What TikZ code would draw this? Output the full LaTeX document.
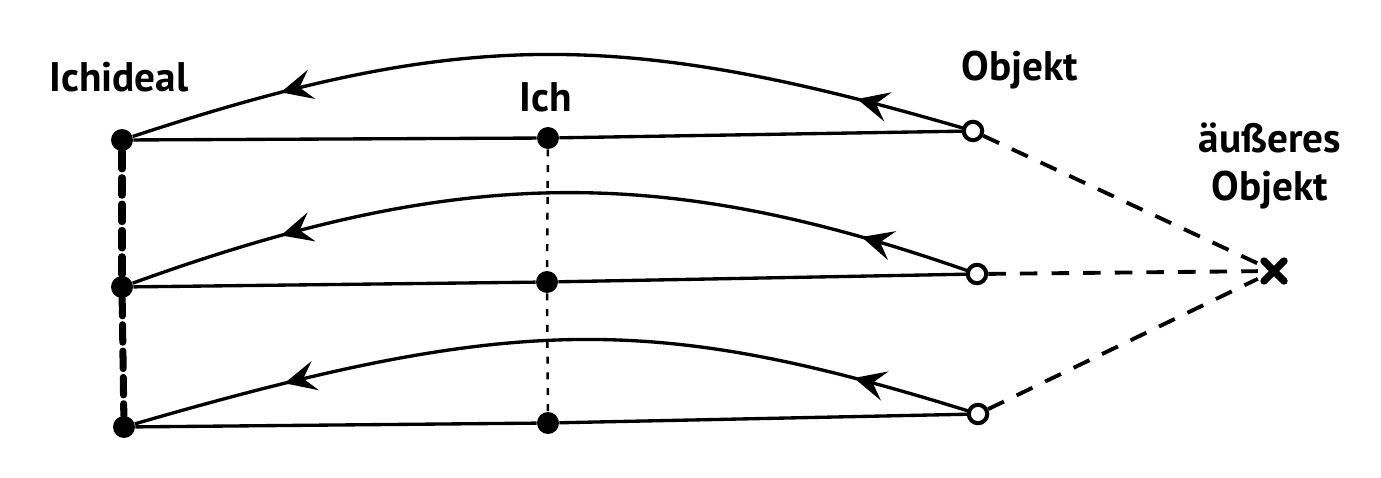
\documentclass[tikz,border=0pt]{standalone}
\usepackage{fontspec}
\setmainfont{PT Sans}
\usetikzlibrary{arrows.meta,decorations.markings,calc}
\tikzset{
  fulldot/.style={circle,fill=black,inner sep=0pt,minimum size=12.5pt},
  opendot/.style={circle,draw=black,line width=2.3pt,fill=white,inner sep=0pt,minimum size=10.5pt},
  lbl/.style={font=\bfseries\fontsize{23.5}{27}\selectfont,inner sep=0pt},
  hline/.style={line width=1.9pt},
  arrowtip/.style={arrows={-Stealth[length=18pt,width=17pt,inset=7pt]}},
  arcline/.style={line width=1.9pt,postaction={decorate},
    decoration={markings,
      mark=at position #1 with {\arrow{Stealth[length=18pt,width=17pt,inset=7pt]}},
      mark=at position 0.82 with {\arrow{Stealth[length=18pt,width=17pt,inset=7pt]}}}},
  ideal/.style={line width=4pt,dash pattern=on 10pt off 5pt,line cap=round},
  ichv/.style={line width=1.4pt,dash pattern=on 4pt off 5pt},
  ext/.style={line width=2.2pt,dash pattern=on 10pt off 8pt},
  crossline/.style={line width=4.2pt,line cap=round},
}
\begin{document}
\begin{tikzpicture}[x=0.02cm,y=-0.02cm]
\useasboundingbox (0,0) rectangle (1381,477);
% nodes
\node[fulldot] (I1) at (122,140) {};
\node[fulldot] (I2) at (122,287) {};
\node[fulldot] (I3) at (124,427) {};
\node[fulldot] (C1) at (548,138) {};
\node[fulldot] (C2) at (547,282) {};
\node[fulldot] (C3) at (548,423) {};
% vertical connections
\draw[ideal] (I1) -- (I2);
\draw[ideal] (I2) -- (I3);
\draw[ichv] (C1) -- (C2);
\draw[ichv] (C2) -- (C3);
% horizontal lines
\coordinate (O1c) at (973,131);
\coordinate (O2c) at (977,274);
\coordinate (O3c) at (978,414);
\draw[hline] (I1) -- (C1) -- (O1c);
\draw[hline] (I2) -- (C2) -- (O2c);
\draw[hline] (I3) -- (C3) -- (O3c);
% arcs
\draw[arcline=0.14] (O1c) .. controls (623,28) and (462,28) .. (I1);
\draw[arcline=0.14] (O2c) .. controls (666,164) and (462,164) .. (I2);
\draw[arcline=0.15] (O3c) .. controls (656,313) and (517,313) .. (I3);
% object circles
\node[opendot] (O1) at (O1c) {};
\node[opendot] (O2) at (O2c) {};
\node[opendot] (O3) at (O3c) {};
% external object
\node[inner sep=0pt,minimum size=18pt] (X) at (1274,271) {};
\coordinate (Xa) at (1264,261);
\coordinate (Xb) at (1284,281);
\coordinate (Xc) at (1284,261);
\coordinate (Xd) at (1264,281);
\draw[crossline] (Xa) -- (Xb);
\draw[crossline] (Xc) -- (Xd);
\draw[ext] (O1) -- (X);
\draw[ext] (O2) -- (X);
\draw[ext] (O3) -- (X);
% labels
\node[lbl] (Lideal) at (119,77) {Ichideal};
\node[lbl] (Lich) at (546,97) {Ich};
\node[lbl] (Lobj) at (1020,70) {Objekt};
\node[lbl,align=center] (Lext) at (1270,166) {äußeres\\Objekt};
\end{tikzpicture}
\end{document}
